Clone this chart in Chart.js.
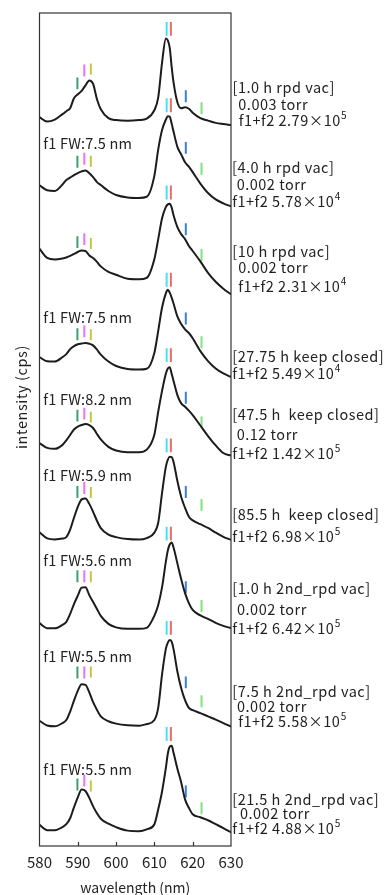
<!DOCTYPE html>
<html><head><meta charset="utf-8">
<script src="https://cdn.jsdelivr.net/npm/chart.js@4/dist/chart.umd.min.js"></script>
<style>html,body{margin:0;padding:0;background:#fff;}canvas{display:block}</style>
</head><body>
<canvas id="c" width="385" height="895"></canvas>
<script>
// wavelength grid (nm)
const wavelengths = [580,582,584,586,587,588,589,590,591,592,593,594,595,596,598,600,603,606,608,610,611,612,613,613.5,614,614.5,615,616,617,618,619,620,622,624,626,628,630];

// stacked spectra (arbitrary offset intensity units, top trace first)
const spec1h   = [735,730.5,732.5,738,741,744,754,758,761.5,767,772,768.5,753,743,734,732,731.3,732,733.5,742,755,790,814.4,812.5,805,786,770,750,744,745,743.5,739.5,734,731.5,729.2,728,727];
const spec4h   = [666.3,661.2,660.5,667,671.5,674,676.5,678.5,680.3,681.3,678.5,674.5,669.5,666.5,660.5,656.5,654,653.5,654.7,676,702.5,722,732.5,735.8,735.5,728.5,720.4,705,697.3,689.5,685,679.5,668,658.5,652,648,645];
const spec10h  = [602.3,593,591.5,592.5,593.5,595,597,599,600.5,600,595.5,593,589,584.5,579,576,572,571.5,573,592,612,633,644.5,647,647.7,644,636,624,617,612,605,600,589.5,578,569,562,556.3];
const spec27h  = [493,488.8,488.5,493,496,501,504,506,506.7,507.2,506.5,504.8,500.5,495.5,488.5,484,481,480.5,481.3,497.5,519.5,543,557.5,561,558,553,547,534,526.3,521,517.3,512,499,489,481.5,476.5,473];
const spec47h  = [406.3,401.5,400.5,404.5,409,414.5,420,423,424.5,425.5,424.5,421.5,415.5,410,402.5,398.8,397,397,399.7,415,438,459,476.5,481.5,482.7,476.3,469,454.7,446.3,443,439,434.5,424,413.4,404,396.3,393.7];
const spec85h  = [316.3,310.2,309.2,310,311.5,319,331,342,349.5,350.5,345,337,328,320.5,314,311.5,309.5,309,310.5,316,326,356,382.5,389.5,392.5,392.2,387.3,368,352,341,332,328.4,324.5,320.7,316,311.7,308.7];
const spec2nd1 = [224.7,219.7,219.5,223,226,234,244,252.5,260.5,261,253,246,239,232,224,220.5,219,219,220,232.3,243,261,287,298,304,306,301,285,269,255,245,238,232.5,229,225,222,219.7];
const spec2nd7 = [126.3,121.5,120.7,124,127,135.6,146.6,156.5,163,162.5,155,145,137.3,130.7,125.8,123.4,121.7,121.3,123,127,139.5,173,199,205,207.7,206,198.5,176,159,147,139.2,137,134,130.7,127.5,124,120.3];
const spec2nd21= [21.3,16,16,19,22,28,39,49,57,55.5,48.5,40,33,27.5,22.5,19,15.5,15,16.8,22,37,55,79,93,100,101,94,78,64,47,38.5,32,29,26,22,18,13.7];

// emission line markers: wavelength of each line, and base level above each trace
const lineWavelengths = [589.9, 591.7, 593.4, 613.2, 614.3, 618.2, 622.3];
const lineColors = ['#3f9e6c','#f070f0','#c9c43c','#3fe3f5','#ee6a6a','#3a7fdc','#7ee37a'];
const lineLengths = [12, 12, 11, 14, 14, 12, 12];
const markerBase = [
  [763,776,778,817,817,750,738],
  [684,687,685,740,740,698,677],
  [603,606,602,652,652,616,590],
  [510,513,510,564,564,526,502],
  [428,430,427,488,488,446,421],
  [351,355,351,397,397,351,338],
  [266,266,266,308,308,255,236],
  [169,169,170,213,213,159,140],
  [56,60,55,106,106,49,32]
];

const xTickValues = [580,590,600,610,620,630];
const innerTicks = [590,600,610,620];

const sampleLabels = [
  [['[1.0 h rpd vac]',1.5,87],['0.003 torr',7.3,104],['f1+f2 2.79×10^5',7.7,120]],
  [['[4.0 h rpd vac]',1,167],['0.002 torr',5.7,184],['f1+f2 5.78×10^4',1.3,201.7]],
  [['[10 h rpd vac]',1.3,251.7],['0.002 torr',7.3,267.7],['f1+f2 2.31×10^4',7.3,286]],
  [['[27.75 h keep closed]',1.3,356],['f1+f2 5.49×10^4',1.3,373.3]],
  [['[47.5 h  keep closed]',1.3,414],['0.12 torr',5.7,434.3],['f1+f2 1.42×10^5',1.3,453.3]],
  [['[85.5 h  keep closed]',1.3,514],['f1+f2 6.98×10^5',1.3,536]],
  [['[1.0 h 2nd_rpd vac]',1.3,588.3],['0.002 torr',6,609.5],['f1+f2 6.42×10^5',1.3,628.3]],
  [['[7.5 h 2nd_rpd vac]',1.3,691.7],['0.002 torr',6,706.7],['f1+f2 5.58×10^5',7.3,721.7]],
  [['[21.5 h 2nd_rpd vac]',1.3,799],['0.002 torr',9,813.3],['f1+f2 4.88×10^5',1.3,828.3]]
];
const fwLabels = [
  ['f1 FW:7.5 nm',143.3],['f1 FW:7.5 nm',317.3],['f1 FW:8.2 nm',399],['f1 FW:5.9 nm',475],
  ['f1 FW:5.6 nm',560.7],['f1 FW:5.5 nm',656.7],['f1 FW:5.5 nm',769.3]
];

const FONT = '"Noto Sans CJK JP", "DejaVu Sans", sans-serif';
const TXT = '#222';

const spectra = [spec1h,spec4h,spec10h,spec27h,spec47h,spec85h,spec2nd1,spec2nd7,spec2nd21];
const datasets = [];
spectra.forEach((s,i)=>{
  datasets.push({
    data: wavelengths.map((w,j)=>({x:w,y:s[j]})),
    borderColor:'#1c1c1c', borderWidth:2, pointRadius:0,
    cubicInterpolationMode:'monotone', fill:false, order:0
  });
});
lineWavelengths.forEach((w,k)=>{
  const pts=[];
  markerBase.forEach(b=>{
    pts.push({x:w,y:b[k]});
    pts.push({x:w,y:b[k]+lineLengths[k]});
    pts.push({x:w,y:null});
  });
  datasets.push({data:pts,borderColor:lineColors[k],borderWidth:2,pointRadius:0,spanGaps:false,tension:0,order:1,borderCapStyle:'butt'});
});

function drawSup(ctx, text, x, y, size){
  const parts = text.split('^');
  ctx.font = size+'px '+FONT;
  ctx.fillText(parts[0], x, y);
  if(parts[1]){
    const w = ctx.measureText(parts[0]).width;
    ctx.font = Math.round(size*0.68)+'px '+FONT;
    ctx.fillText(parts[1], x+w+0.3, y-5);
  }
}

const annot = {
  id:'annot',
  beforeDatasetsDraw(chart){
    const ctx=chart.ctx, a=chart.chartArea;
    ctx.save();
    ctx.fillStyle=TXT; ctx.textBaseline='middle'; ctx.textAlign='left';
    ctx.letterSpacing='0.5px';
    sampleLabels.forEach(block=>block.forEach(([t,dx,y])=>drawSup(ctx,t,a.right+dx,y,14.5)));
    ctx.letterSpacing='0.2px';
    ctx.font='14.5px '+FONT;
    fwLabels.forEach(([t,y])=>ctx.fillText(t,a.left+3.8,y));
    // y title
    ctx.letterSpacing='0.6px';
    ctx.translate(21.5,397); ctx.rotate(-Math.PI/2);
    ctx.textAlign='center'; ctx.font='14.5px '+FONT;
    ctx.fillText('intensity (cps)',0,0);
    ctx.restore();
  },
  afterDraw(chart){
    const ctx=chart.ctx, a=chart.chartArea, xs=chart.scales.x;
    ctx.save();
    ctx.strokeStyle='#333'; ctx.lineWidth=1.2;
    ctx.strokeRect(a.left,a.top,a.right-a.left,a.bottom-a.top);
    ctx.beginPath();
    innerTicks.forEach(v=>{const px=Math.round(xs.getPixelForValue(v))+0.5;ctx.moveTo(px,a.bottom);ctx.lineTo(px,a.bottom-4);});
    ctx.stroke();
    ctx.restore();
  }
};

new Chart(document.getElementById('c').getContext('2d'),{
  type:'line',
  data:{datasets},
  options:{
    responsive:false, animation:false, devicePixelRatio:1,
    layout:{padding:{left:39.5,right:154,top:13,bottom:0}},
    plugins:{legend:{display:false},tooltip:{enabled:false}},
    scales:{
      x:{type:'linear',min:580,max:630,
        afterBuildTicks(s){s.ticks=xTickValues.map(v=>({value:v}));},
        ticks:{padding:7,color:TXT,font:{family:FONT,size:15},maxRotation:0,autoSkip:false},
        grid:{drawOnChartArea:false,drawTicks:false},
        border:{display:false},
        title:{display:true,text:'wavelength (nm)',color:TXT,font:{family:FONT,size:14,lineHeight:1},padding:{top:3,bottom:0}}},
      y:{display:false,min:0,max:840}
    }
  },
  plugins:[annot]
});
</script>
</body></html>
